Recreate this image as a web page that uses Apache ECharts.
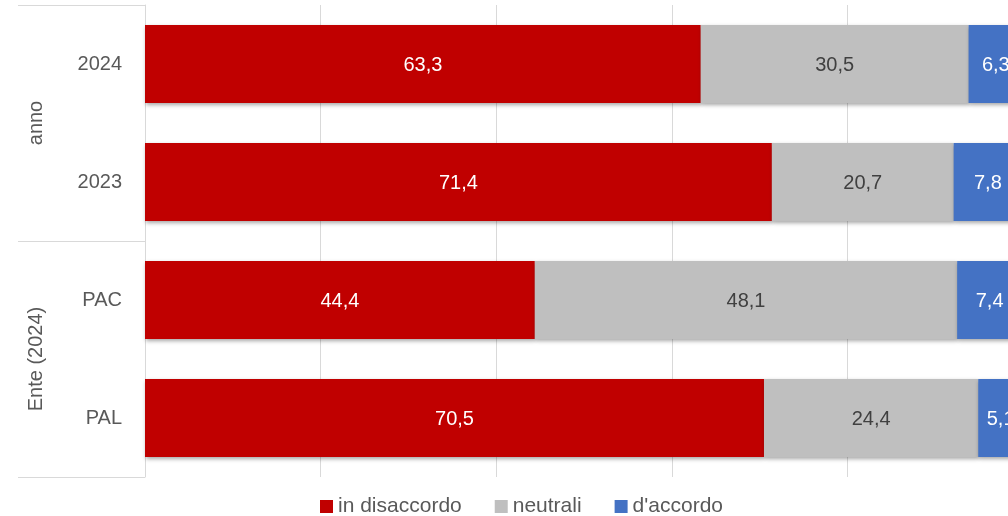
<!DOCTYPE html>
<html><head><meta charset="utf-8">
<script src="https://cdn.jsdelivr.net/npm/echarts@6/dist/echarts.min.js"></script>
<style>html,body{margin:0;padding:0;background:#fff;overflow:hidden;width:1008px;height:516px}#c{width:1023px;height:516px}</style>
</head><body><div id="c"></div>
<script>
const categories = ['2024', '2023', 'PAC', 'PAL'];
const groups = ['anno', 'Ente (2024)'];
const seriesNames = ['in disaccordo', 'neutrali', "d'accordo"];
const disaccordo = [63.3, 71.4, 44.4, 70.5];
const neutrali = [30.5, 20.7, 48.1, 24.4];
const accordo = [6.3, 7.8, 7.4, 5.1];
const colors = ['#C00000', '#BFBFBF', '#4472C4'];
const labelColors = ['#FFFFFF', '#404040', '#FFFFFF'];
const values = [disaccordo, neutrali, accordo];

const FONT = '"Liberation Sans", sans-serif';
const chart = echarts.init(document.getElementById('c'));
chart.setOption({
  animation: false,
  textStyle: { fontFamily: FONT },
  grid: { left: 145, right: 0, top: 5, bottom: 39 },
  legend: {
    top: 491, left: 315, itemWidth: 13, itemHeight: 13, itemGap: 33,
    textStyle: { fontSize: 21, color: '#595959', fontFamily: FONT },
    data: seriesNames.map(n => ({ name: n, icon: 'rect' }))
  },
  xAxis: {
    type: 'value', min: 0, max: 100, interval: 20,
    axisLabel: { show: false }, axisLine: { show: false }, axisTick: { show: false },
    splitLine: { show: true, lineStyle: { color: '#D9D9D9', width: 1 } }
  },
  yAxis: [
    {
      type: 'category', data: categories, inverse: true,
      axisLine: { show: true, lineStyle: { color: '#D9D9D9' } },
      axisTick: { show: false },
      axisLabel: { fontSize: 20, color: '#595959', margin: 23, fontFamily: FONT }
    },
    {
      type: 'category', data: groups, inverse: true, position: 'left',
      axisLine: { show: false },
      axisTick: { show: true, length: 127, lineStyle: { color: '#D9D9D9' } },
      axisLabel: { rotate: 90, fontSize: 20, color: '#595959', margin: 99, fontFamily: FONT }
    }
  ],
  series: values.map((v, i) => ({
    name: seriesNames[i], type: 'bar', stack: 'tot', yAxisIndex: 0,
    data: v, barCategoryGap: '34%',
    itemStyle: { color: colors[i], shadowColor: 'rgba(0,0,0,0.35)', shadowBlur: 4, shadowOffsetX: 1, shadowOffsetY: 2 },
    label: {
      show: true, position: 'inside', offset: [0, 1.5], fontSize: 20, color: labelColors[i], fontFamily: FONT,
      formatter: p => p.value.toFixed(1).replace('.', ',')
    }
  }))
});
</script></body></html>
